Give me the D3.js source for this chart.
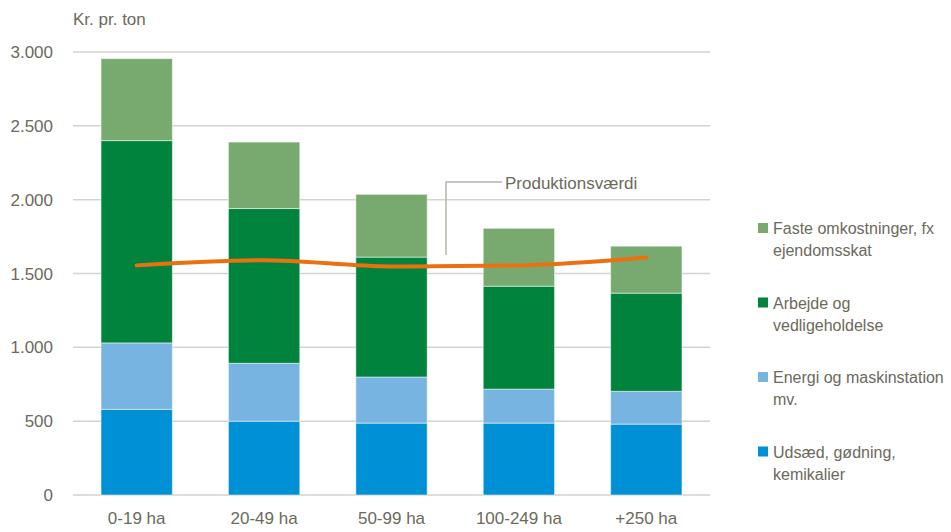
<!DOCTYPE html>
<html lang="da">
<head>
  <meta charset="UTF-8">
  <title>Omkostninger pr. ton</title>
  <style>
    body { margin: 0; background: #fff; font-family: "Liberation Sans", Arial, sans-serif; }
    text { fill: #6b6a5c; }
  </style>
</head>
<body>
  <div id="chart"></div>
  <script src="https://d3js.org/d3.v7.min.js"></script>
  <script>
    // data
    const categories = ["0-19 ha", "20-49 ha", "50-99 ha", "100-249 ha", "+250 ha"];
    const udsaed   = [580, 500, 487, 487, 480];
    const energi   = [450, 392, 312, 230, 222];
    const arbejde  = [1370, 1048, 812, 697, 665];
    const faste    = [555, 450, 425, 392, 318];
    const produktionsvaerdi = [1555, 1590, 1548, 1555, 1608];
    const yTicks = [0, 500, 1000, 1500, 2000, 2500, 3000];

    const seriesKeys = ["udsaed", "energi", "arbejde", "faste"];
    const seriesNames = {
      faste: ["Faste omkostninger, fx", "ejendomsskat"],
      arbejde: ["Arbejde og", "vedligeholdelse"],
      energi: ["Energi og maskinstation", "mv."],
      udsaed: ["Udsæd, gødning,", "kemikalier"]
    };
    const colors = { udsaed: "#0090d5", energi: "#78b4e1", arbejde: "#00843d", faste: "#78aa70" };

    const rows = categories.map((c, i) => ({
      cat: c, udsaed: udsaed[i], energi: energi[i], arbejde: arbejde[i], faste: faste[i]
    }));

    const width = 951, height = 532;
    const margin = { top: 52, left: 73, right: 241, bottom: 37 };

    const svg = d3.select("#chart").append("svg")
      .attr("width", width).attr("height", height);

    const x = d3.scaleBand()
      .domain(categories)
      .range([margin.left, width - margin.right])
      .paddingInner(0.44)
      .paddingOuter(0.22);

    const y = d3.scaleLinear()
      .domain([0, 3000])
      .range([height - margin.bottom, margin.top]);

    // gridlines
    svg.append("g")
      .selectAll("line")
      .data(yTicks)
      .join("line")
      .attr("x1", margin.left).attr("x2", width - margin.right)
      .attr("y1", d => y(d)).attr("y2", d => y(d))
      .attr("stroke", "#d3d3cb").attr("stroke-width", 1.5);

    // y axis labels
    svg.append("g")
      .selectAll("text")
      .data(yTicks)
      .join("text")
      .attr("x", 53).attr("y", d => y(d) + 6)
      .attr("text-anchor", "end")
      .attr("font-size", 17)
      .text(d => d3.format(",")(d).replace(/,/g, "."));

    svg.append("text")
      .attr("x", 73).attr("y", 25)
      .attr("font-size", 17)
      .text("Kr. pr. ton");

    // stacked bars
    const stacked = d3.stack().keys(seriesKeys)(rows);
    svg.append("g")
      .selectAll("g")
      .data(stacked)
      .join("g")
      .attr("fill", d => colors[d.key])
      .selectAll("rect")
      .data(d => d)
      .join("rect")
      .attr("x", d => x(d.data.cat))
      .attr("width", x.bandwidth())
      .attr("y", d => y(d[1]))
      .attr("height", d => y(d[0]) - y(d[1]))
      .attr("stroke", "rgba(255,255,255,0.5)")
      .attr("stroke-width", 1);

    // x labels
    svg.append("g")
      .selectAll("text")
      .data(categories)
      .join("text")
      .attr("x", d => x(d) + x.bandwidth() / 2)
      .attr("y", 524)
      .attr("text-anchor", "middle")
      .attr("font-size", 17)
      .text(d => d);

    // production value line
    const line = d3.line()
      .x((d, i) => x(categories[i]) + x.bandwidth() / 2)
      .y(d => y(d))
      .curve(d3.curveMonotoneX);

    svg.append("path")
      .datum(produktionsvaerdi)
      .attr("d", line)
      .attr("fill", "none")
      .attr("stroke", "#eb7110")
      .attr("stroke-width", 4)
      .attr("stroke-linecap", "round");

    // callout
    svg.append("polyline")
      .attr("points", "446,255 446,182 502,182")
      .attr("fill", "none")
      .attr("stroke", "#b5b5aa")
      .attr("stroke-width", 1.5);

    svg.append("text")
      .attr("x", 505).attr("y", 189)
      .attr("font-size", 17)
      .text("Produktionsværdi");

    // legend
    const legendKeys = ["faste", "arbejde", "energi", "udsaed"];
    const legend = svg.append("g")
      .selectAll("g")
      .data(legendKeys)
      .join("g")
      .attr("transform", (d, i) => `translate(758, ${223 + i * 74.5})`);

    legend.append("rect")
      .attr("width", 10).attr("height", 10)
      .attr("fill", d => colors[d]);

    legend.append("text")
      .attr("x", 15).attr("y", 11)
      .attr("font-size", 16)
      .selectAll("tspan")
      .data(d => seriesNames[d])
      .join("tspan")
      .attr("x", 15)
      .attr("dy", (d, i) => i === 0 ? 0 : 22)
      .text(d => d);
  </script>
</body>
</html>
